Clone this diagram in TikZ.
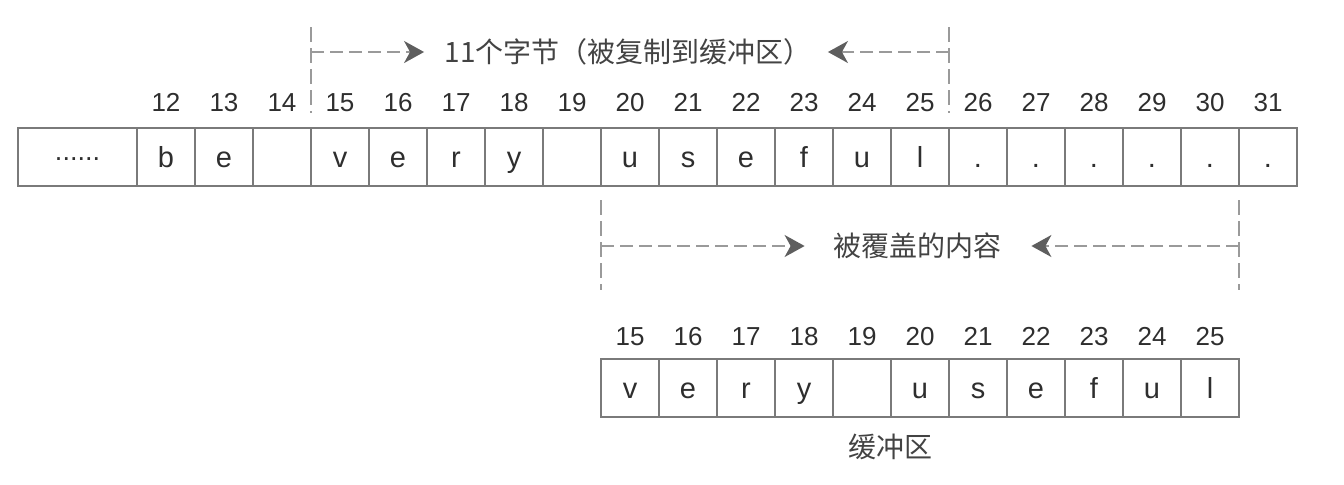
\documentclass[tikz,border=0pt]{standalone}
\usepackage{fontspec}
\setmainfont{Liberation Sans}
\newfontfamily\cjk{Noto Sans CJK SC}
\usetikzlibrary{arrows.meta,positioning}
\definecolor{boxgray}{HTML}{7A7A7A}
\definecolor{dashgray}{HTML}{9A9A9A}
\definecolor{headgray}{HTML}{5E5E5E}
\definecolor{inkgray}{HTML}{2E2E2E}
\tikzset{
	cell/.style={draw=boxgray, line width=0.9pt, minimum width=29pt, minimum height=29pt,
		inner sep=0pt, text height=12.5pt, text depth=2pt, text=inkgray,
		font=\fontsize{14.5}{14.5}\selectfont},
	idx/.style={inner sep=0pt, text=inkgray, font=\fontsize{13}{13}\selectfont},
	note/.style={inner sep=0pt, text=inkgray!90, font=\cjk\fontsize{14}{14}\selectfont},
	bound/.style={draw=dashgray, line width=0.9pt, dash pattern=on 7.5pt off 3pt},
	spanarrow/.style={draw=dashgray, line width=0.9pt, dash pattern=on 6.5pt off 3pt,
		-{Stealth[length=10pt, width=11pt, inset=3pt, color=headgray]}},
}
\begin{document}
\begin{tikzpicture}[x=0.5pt, y=-0.5pt]
		%%%%% START %%%%%
		\useasboundingbox (0, 0) rectangle (1344, 484);
		
		% memory row
		\node[cell, minimum width=59.5pt, text height=5pt, font=\fontsize{13.5}{13.5}\selectfont]
			(dots) at (77.5, 157) {......};
		\foreach \i/\c in {12/b, 13/e, 14/{}, 15/v, 16/e, 17/r, 18/y, 19/{}, 20/u, 21/s,
			22/e, 23/f, 24/u, 25/l, 26/., 27/., 28/., 29/., 30/., 31/.} {
			\node[cell] (m\i) at ({166 + (\i - 12) * 58}, 157) {\c};
			\node[idx, above=7.5pt of m\i] (n\i) {\i};
		}
		
		% buffer row
		\foreach \j/\c in {15/v, 16/e, 17/r, 18/y, 19/{}, 20/u, 21/s, 22/e, 23/f, 24/u, 25/l} {
			\node[cell] (b\j) at ({630 + (\j - 15) * 58}, 388) {\c};
			\node[idx, above=6pt of b\j] (k\j) {\j};
		}
		\node[note] (buffer) at (890, 447) {缓冲区};
		
		% copied bytes
		\draw[bound] (311, 27) -- (311, 113);
		\draw[bound] (949, 27) -- (949, 113);
		\coordinate (copyL) at (311, 52);
		\coordinate (copyR) at (949, 52);
		\node[note] (copied) at (628, 52) {11个字节（被复制到缓冲区）};
		\draw[spanarrow] (copyL) -- ([xshift=-10pt]copied.west);
		\draw[spanarrow] (copyR) -- ([xshift=8pt]copied.east);
		
		% overwritten part
		\draw[bound] (601, 200) -- (601, 290);
		\draw[bound] (1239, 200) -- (1239, 290);
		\coordinate (overL) at (601, 246);
		\coordinate (overR) at (1239, 246);
		\node[note] (covered) at (917, 246) {被覆盖的内容};
		\draw[spanarrow] (overL) -- ([xshift=-14pt]covered.west);
		\draw[spanarrow] (overR) -- ([xshift=15pt]covered.east);
		
		%%%%% END %%%%%
	\end{tikzpicture}
\end{document}
